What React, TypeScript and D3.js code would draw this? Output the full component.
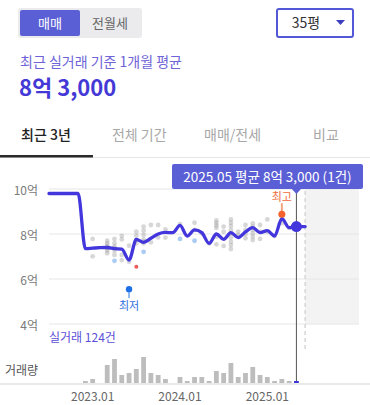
import React from "react";
import * as d3 from "d3";

const W = 370;
const H = 405;
const FONT = "'Noto Sans CJK KR', 'Noto Sans', sans-serif";

// ---- data ----
const yTicks = [10, 8, 6, 4];
const yTickLabels = ["10억", "8억", "6억", "4억"];
const xTickMonths = ["2023.01", "2024.01", "2025.01"];

const lineMonths = [
  "2022.07", "2022.08", "2022.09", "2022.10", "2022.11", "2022.12",
  "2023.01", "2023.02", "2023.03", "2023.04", "2023.05", "2023.06",
  "2023.07", "2023.08", "2023.09", "2023.10", "2023.11", "2023.12",
  "2024.01", "2024.02", "2024.03", "2024.04", "2024.05", "2024.06",
  "2024.07", "2024.08", "2024.09", "2024.10", "2024.11", "2024.12",
  "2025.01", "2025.02", "2025.03", "2025.04", "2025.05",
];
const lineValues = [
  9.8, 9.8, 9.8, 9.8, 9.8, 7.35,
  7.37, 7.39, 7.4, 7.35, 7.33, 6.84,
  7.76, 7.63, 7.81, 8.0, 8.07, 8.06,
  8.38, 7.91, 8.18, 8.06, 7.58, 8.0,
  7.76, 8.06, 7.84, 8.09, 8.28, 8.06,
  8.15, 7.91, 8.68, 8.28, 8.33,
];

const barMonths = [
  "2022.12", "2023.01", "2023.02", "2023.03", "2023.04", "2023.05",
  "2023.06", "2023.07", "2023.08", "2023.09", "2023.10", "2023.11",
  "2023.12", "2024.01", "2024.02", "2024.03", "2024.04", "2024.05",
  "2024.06", "2024.07", "2024.08", "2024.09", "2024.10", "2024.11",
  "2024.12", "2025.01", "2025.02", "2025.03", "2025.04", "2025.05",
];
const barCounts = [
  1, 2, 0, 9, 12, 4,
  5, 7, 13, 5, 4, 2,
  0, 3, 1, 3, 3, 1,
  6, 5, 10, 3, 5, 8,
  4, 3, 1, 2, 1, 1,
];

// gray transaction dots [month, value]
const grayDots: [string, number][] = [
  ["2023.01", 7.78], ["2023.01", 7.01],
  ["2023.03", 7.7], ["2023.03", 7.59], ["2023.03", 7.48], ["2023.03", 7.36], ["2023.03", 7.26], ["2023.03", 7.14], ["2023.03", 7.42],
  ["2023.04", 7.78], ["2023.04", 7.59], ["2023.04", 7.44], ["2023.04", 7.26], ["2023.04", 7.07], ["2023.04", 7.36],
  ["2023.05", 7.92], ["2023.05", 7.76], ["2023.05", 7.07], ["2023.05", 6.84],
  ["2023.06", 7.48], ["2023.06", 6.77],
  ["2023.07", 8.1], ["2023.07", 7.92], ["2023.07", 7.73], ["2023.07", 7.59],
  ["2023.08", 8.33], ["2023.08", 8.15], ["2023.08", 7.96], ["2023.08", 7.76], ["2023.08", 7.59], ["2023.08", 7.66],
  ["2023.09", 8.4], ["2023.09", 7.63],
  ["2023.10", 8.4], ["2023.10", 7.85],
  ["2023.11", 8.21], ["2023.11", 7.84],
  ["2024.01", 8.44],
  ["2024.03", 8.5], ["2024.03", 8.18],
  ["2024.04", 8.03],
  ["2024.05", 7.58],
  ["2024.06", 8.6], ["2024.06", 8.49], ["2024.06", 8.38], ["2024.06", 8.27], ["2024.06", 7.88], ["2024.06", 7.54],
  ["2024.07", 8.33], ["2024.07", 8.1], ["2024.07", 7.47],
  ["2024.08", 8.65], ["2024.08", 8.5], ["2024.08", 8.36], ["2024.08", 8.18], ["2024.08", 8.03], ["2024.08", 7.85], ["2024.08", 7.66], ["2024.08", 7.51], ["2024.08", 7.33],
  ["2024.09", 8.11], ["2024.09", 7.96],
  ["2024.10", 8.4], ["2024.10", 8.18], ["2024.10", 7.99], ["2024.10", 7.81],
  ["2024.11", 8.47], ["2024.11", 8.33], ["2024.11", 8.18], ["2024.11", 8.03], ["2024.11", 7.88], ["2024.11", 7.73],
  ["2024.12", 8.4], ["2024.12", 8.1], ["2024.12", 7.78],
  ["2025.01", 8.65], ["2025.01", 8.1],
  ["2025.02", 7.91],
  ["2025.03", 8.48],
  ["2025.04", 8.28],
];
const blueDots: [string, number][] = [
  ["2023.04", 6.81], ["2023.08", 7.21], ["2024.01", 7.78], ["2024.03", 7.7],
];
const redDots: [string, number][] = [["2023.07", 6.55]];
const maxDeal: [string, number] = ["2025.03", 8.88];
const minDeal: [string, number] = ["2023.06", 5.55];
const currentMonth = "2025.05";
const currentValue = 8.33;
const shadeStartMonth = 29.2; // month index (from 2023.01) where future shading begins
const domainMonths = [-6, 36.6];

const mIdx = (s: string) => {
  const [y, m] = s.split(".").map(Number);
  return (y - 2023) * 12 + (m - 1);
};

export default function App() {
  const x = d3.scaleLinear().domain(domainMonths).range([49, 359]);
  const y = d3.scaleLinear().domain([4, 10]).range([324, 189]);
  const yBar = d3.scaleLinear().domain([0, 13]).range([383, 357]);

  const linePts: [number, number][] = lineMonths.map((m, i) => [x(mIdx(m)), y(lineValues[i])]);
  linePts.push([x(shadeStartMonth), y(currentValue)]);
  const linePath = d3.line().curve(d3.curveMonotoneX)(linePts) || "";

  const cx = x(mIdx(currentMonth));
  const cy = y(currentValue);
  const maxX = x(mIdx(maxDeal[0]));
  const maxY = y(maxDeal[1]);
  const minX = x(mIdx(minDeal[0]));
  const minY = y(minDeal[1]);
  const shadeX = x(shadeStartMonth);

  const tipW = 191;
  const tipX = 172;

  return (
    <div style={{ position: "absolute", left: 0, top: 0 }}>
      <svg width={W} height={H} style={{ display: "block", fontFamily: FONT }}>
        <rect width={W} height={H} fill="#fff" />
        {/* header toggle */}
        <rect x={18} y={8} width={124} height={30} rx={3} fill="#ebebee" />
        <rect x={20} y={10} width={60} height={26} rx={2} fill="#5b5fd6" />
        <text x={50} y={28} textAnchor="middle" fontSize={13} fill="#fff">매매</text>
        <text x={110} y={28} textAnchor="middle" fontSize={13} fill="#666">전월세</text>
        {/* dropdown */}
        <rect x={277} y={9} width={76} height={28} rx={2} fill="#fff" stroke="#5358d6" strokeWidth={2} />
        <text x={306} y={28} textAnchor="middle" fontSize={14} fill="#333">35평</text>
        <path d="M336,20 L345,20 L340.5,25 Z" fill="#3b3fbf" />
        {/* subtitle */}
        <text x={20} y={67} fontSize={14} fill="#6e64d8">최근 실거래 기준 1개월 평균</text>
        <text x={19} y={96} fontSize={22} fontWeight={700} fill="#4439d6">8억 3,000</text>
        {/* tabs */}
        {["최근 3년", "전체 기간", "매매/전세", "비교"].map((t, i) => (
          <text key={t} x={46 + i * 93.3} y={140} textAnchor="middle" fontSize={14}
            fontWeight={i === 0 ? 500 : 400} fill={i === 0 ? "#222" : "#a8a8a8"}>{t}</text>
        ))}
        <line x1={0} x2={W} y1={157.5} y2={157.5} stroke="#e6e6e6" strokeWidth={1} />
        <rect x={0} y={155} width={93} height={2.5} fill="#2a2a2a" />

        {/* shading */}
        <rect x={shadeX} y={178} width={359 - shadeX} height={324 - 178} fill="#f3f3f3" />
        {/* grid */}
        {yTicks.map((v, i) => (
          <g key={v}>
            <line x1={49} x2={359} y1={y(v)} y2={y(v)} stroke="#e6e6e6" strokeWidth={1} />
            <text x={38} y={y(v)} textAnchor="end" dominantBaseline="central" fontSize={12} fill="#7a7a7a">
              {yTickLabels[i]}
            </text>
          </g>
        ))}
        <line x1={shadeX} x2={shadeX} y1={184} y2={352} stroke="#d6d6d6" strokeWidth={1.5} strokeDasharray="4,3" />

        {/* dots */}
        {grayDots.map((d, i) => (
          <circle key={"g" + i} cx={x(mIdx(d[0]))} cy={y(d[1])} r={2.4} fill="#9a9a9a" fillOpacity={0.4} />
        ))}
        {blueDots.map((d, i) => (
          <circle key={"b" + i} cx={x(mIdx(d[0]))} cy={y(d[1])} r={2.4} fill="#aacbf3" />
        ))}
        {redDots.map((d, i) => (
          <circle key={"r" + i} cx={x(mIdx(d[0]))} cy={y(d[1])} r={2} fill="#f05a5a" />
        ))}

        {/* line */}
        <path d={linePath} fill="none" stroke="#4236dc" strokeWidth={3.3} strokeLinejoin="round" strokeLinecap="round" />

        {/* max marker */}
        <line x1={maxX} x2={maxX} y1={maxY} y2={maxY - 11} stroke="#f7a47e" strokeWidth={2} />
        <circle cx={maxX} cy={maxY} r={3.5} fill="#f5622d" />
        <text x={maxX} y={maxY - 13} textAnchor="middle" fontSize={11} fill="#f06a3a">최고</text>
        {/* min marker */}
        <line x1={minX} x2={minX} y1={minY} y2={minY + 9} stroke="#8fb8f0" strokeWidth={2} />
        <circle cx={minX} cy={minY} r={3.2} fill="#1f6fe6" />
        <text x={minX} y={minY + 21} textAnchor="middle" fontSize={11} fill="#2f6fe0">최저</text>

        {/* cursor */}
        <line x1={cx} x2={cx} y1={189} y2={383} stroke="#555" strokeWidth={1} />
        <circle cx={cx} cy={cy} r={5.5} fill="#4236dc" />

        {/* volume */}
        <text x={49} y={342} fontSize={12} fill="#5b4fd8">실거래 124건</text>
        <text x={38} y={375} textAnchor="end" fontSize={12} fill="#555">거래량</text>
        {barMonths.map((m, i) =>
          barCounts[i] > 0 ? (
            <rect key={m} x={x(mIdx(m)) - 2.4} y={yBar(barCounts[i])} width={4.8}
              height={383 - yBar(barCounts[i])} fill={m === currentMonth ? "#3a36d8" : "#bdbdbd"} />
          ) : null
        )}
        <line x1={0} x2={W} y1={384} y2={384} stroke="#e9e9e9" strokeWidth={2} />
        {xTickMonths.map((m) => (
          <text key={m} x={x(mIdx(m))} y={401} textAnchor="middle" fontSize={12} fill="#666">{m}</text>
        ))}

        {/* tooltip */}
        <rect x={tipX} y={164} width={tipW} height={25} rx={2} fill="#5b5fd6" />
        <path d={`M${cx - 5},188.5 L${cx + 5},188.5 L${cx},194 Z`} fill="#5b5fd6" />
        <text x={tipX + tipW / 2} y={181.5} textAnchor="middle" fontSize={13.5} fill="#fff">
          2025.05 평균 8억 3,000 (1건)
        </text>
      </svg>
    </div>
  );
}
